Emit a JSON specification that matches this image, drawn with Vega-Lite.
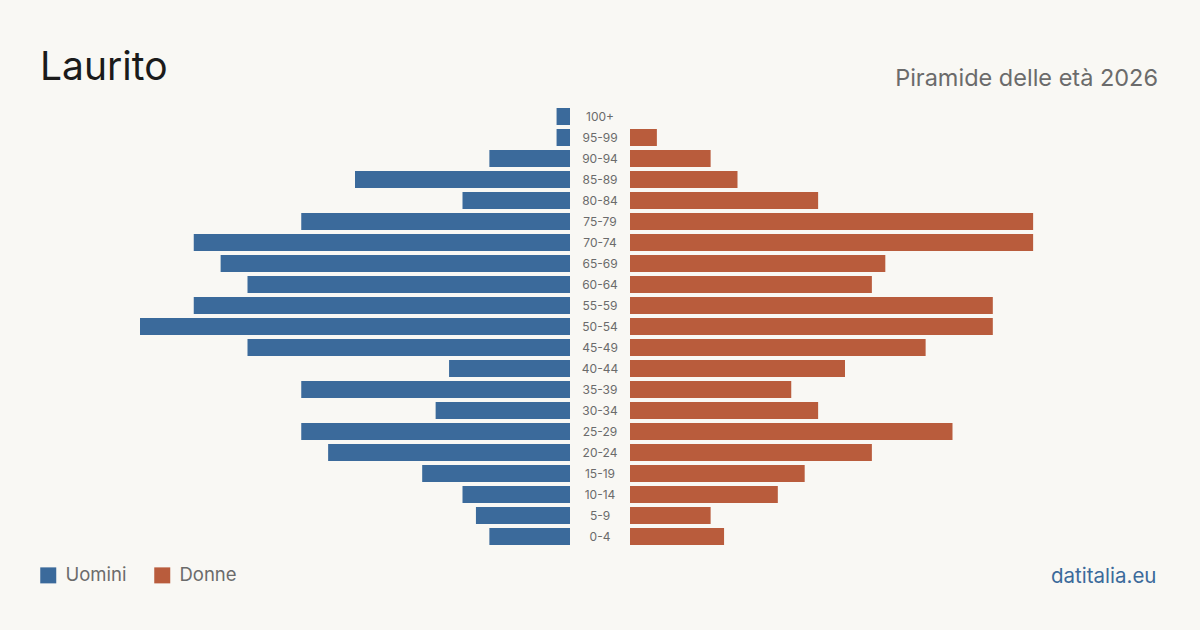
{
  "$schema": "https://vega.github.io/schema/vega-lite/v6.json",
  "background": "#f9f8f4",
  "padding": {"left": 39, "right": 42, "top": 49, "bottom": 81},
  "bounds": "flush",
  "spacing": 0,
  "datasets": {
    "piramide": [
      {"eta": "100+", "sesso": "Uomini", "n": 1}, {"eta": "100+", "sesso": "Donne", "n": 0},
      {"eta": "95-99", "sesso": "Uomini", "n": 1}, {"eta": "95-99", "sesso": "Donne", "n": 2},
      {"eta": "90-94", "sesso": "Uomini", "n": 6}, {"eta": "90-94", "sesso": "Donne", "n": 6},
      {"eta": "85-89", "sesso": "Uomini", "n": 16}, {"eta": "85-89", "sesso": "Donne", "n": 8},
      {"eta": "80-84", "sesso": "Uomini", "n": 8}, {"eta": "80-84", "sesso": "Donne", "n": 14},
      {"eta": "75-79", "sesso": "Uomini", "n": 20}, {"eta": "75-79", "sesso": "Donne", "n": 30},
      {"eta": "70-74", "sesso": "Uomini", "n": 28}, {"eta": "70-74", "sesso": "Donne", "n": 30},
      {"eta": "65-69", "sesso": "Uomini", "n": 26}, {"eta": "65-69", "sesso": "Donne", "n": 19},
      {"eta": "60-64", "sesso": "Uomini", "n": 24}, {"eta": "60-64", "sesso": "Donne", "n": 18},
      {"eta": "55-59", "sesso": "Uomini", "n": 28}, {"eta": "55-59", "sesso": "Donne", "n": 27},
      {"eta": "50-54", "sesso": "Uomini", "n": 32}, {"eta": "50-54", "sesso": "Donne", "n": 27},
      {"eta": "45-49", "sesso": "Uomini", "n": 24}, {"eta": "45-49", "sesso": "Donne", "n": 22},
      {"eta": "40-44", "sesso": "Uomini", "n": 9}, {"eta": "40-44", "sesso": "Donne", "n": 16},
      {"eta": "35-39", "sesso": "Uomini", "n": 20}, {"eta": "35-39", "sesso": "Donne", "n": 12},
      {"eta": "30-34", "sesso": "Uomini", "n": 10}, {"eta": "30-34", "sesso": "Donne", "n": 14},
      {"eta": "25-29", "sesso": "Uomini", "n": 20}, {"eta": "25-29", "sesso": "Donne", "n": 24},
      {"eta": "20-24", "sesso": "Uomini", "n": 18}, {"eta": "20-24", "sesso": "Donne", "n": 18},
      {"eta": "15-19", "sesso": "Uomini", "n": 11}, {"eta": "15-19", "sesso": "Donne", "n": 13},
      {"eta": "10-14", "sesso": "Uomini", "n": 8}, {"eta": "10-14", "sesso": "Donne", "n": 11},
      {"eta": "5-9", "sesso": "Uomini", "n": 7}, {"eta": "5-9", "sesso": "Donne", "n": 6},
      {"eta": "0-4", "sesso": "Uomini", "n": 6}, {"eta": "0-4", "sesso": "Donne", "n": 7}
    ],
    "classi": [
      {"eta": "100+"}, {"eta": "95-99"}, {"eta": "90-94"}, {"eta": "85-89"}, {"eta": "80-84"},
      {"eta": "75-79"}, {"eta": "70-74"}, {"eta": "65-69"}, {"eta": "60-64"}, {"eta": "55-59"},
      {"eta": "50-54"}, {"eta": "45-49"}, {"eta": "40-44"}, {"eta": "35-39"}, {"eta": "30-34"},
      {"eta": "25-29"}, {"eta": "20-24"}, {"eta": "15-19"}, {"eta": "10-14"}, {"eta": "5-9"},
      {"eta": "0-4"}
    ]
  },
  "hconcat": [
    {
      "title": {
        "text": "Laurito",
        "anchor": "start",
        "frame": "group",
        "dx": -100,
        "offset": 0,
        "dy": 13,
        "baseline": "alphabetic",
        "font": "Inter",
        "fontSize": 39,
        "fontWeight": "normal",
        "color": "#1b1b1b"
      },
      "width": 430,
      "height": 441,
      "data": {"name": "piramide"},
      "transform": [{"filter": "datum.sesso === 'Uomini'"}],
      "mark": {"type": "bar"},
      "encoding": {
        "y": {
          "field": "eta", "type": "nominal", "axis": null,
          "scale": {
            "domain": ["100+", "95-99", "90-94", "85-89", "80-84", "75-79", "70-74", "65-69", "60-64", "55-59", "50-54", "45-49", "40-44", "35-39", "30-34", "25-29", "20-24", "15-19", "10-14", "5-9", "0-4"],
            "paddingInner": 0.19, "paddingOuter": 0.095
          }
        },
        "x": {
          "field": "n", "type": "quantitative", "axis": null,
          "scale": {"domain": [0, 32], "reverse": true, "nice": false}
        },
        "color": {
          "field": "sesso", "type": "nominal",
          "scale": {"domain": ["Uomini", "Donne"], "range": ["#3b6a9b", "#b95c3c"]},
          "legend": {
            "title": null,
            "orient": "none",
            "legendX": -101,
            "legendY": 460,
            "direction": "horizontal",
            "symbolType": "square",
            "symbolSize": 256,
            "symbolStrokeWidth": 0,
            "labelFont": "Inter",
            "labelFontSize": 18.5,
            "labelColor": "#6b6b6b",
            "labelOffset": 8,
            "columnPadding": 26
          }
        }
      }
    },
    {
      "width": 60,
      "height": 441,
      "data": {"name": "classi"},
      "mark": {"type": "text", "font": "Inter", "fontSize": 12, "color": "#6b6b6b", "baseline": "middle", "align": "center"},
      "encoding": {
        "y": {
          "field": "eta", "type": "nominal", "axis": null,
          "scale": {
            "domain": ["100+", "95-99", "90-94", "85-89", "80-84", "75-79", "70-74", "65-69", "60-64", "55-59", "50-54", "45-49", "40-44", "35-39", "30-34", "25-29", "20-24", "15-19", "10-14", "5-9", "0-4"],
            "paddingInner": 0.19, "paddingOuter": 0.095
          }
        },
        "text": {"field": "eta"}
      }
    },
    {
      "title": {
        "text": "Piramide delle età 2026",
        "anchor": "end",
        "frame": "group",
        "dx": 98,
        "offset": 0,
        "dy": 3,
        "baseline": "alphabetic",
        "font": "Inter",
        "fontSize": 23.5,
        "fontWeight": "normal",
        "color": "#6b6b6b"
      },
      "width": 430,
      "height": 441,
      "data": {"name": "piramide"},
      "transform": [{"filter": "datum.sesso === 'Donne'"}],
      "mark": {"type": "bar"},
      "encoding": {
        "y": {
          "field": "eta", "type": "nominal", "axis": null,
          "scale": {
            "domain": ["100+", "95-99", "90-94", "85-89", "80-84", "75-79", "70-74", "65-69", "60-64", "55-59", "50-54", "45-49", "40-44", "35-39", "30-34", "25-29", "20-24", "15-19", "10-14", "5-9", "0-4"],
            "paddingInner": 0.19, "paddingOuter": 0.095
          }
        },
        "x": {
          "field": "n", "type": "quantitative",
          "scale": {"domain": [0, 32], "nice": false},
          "axis": {
            "title": "datitalia.eu",
            "labels": false, "ticks": false, "domain": false, "grid": false,
            "titleX": 526, "titleY": 35,
            "titleAlign": "right", "titleAnchor": null, "titleBaseline": "alphabetic",
            "titleFont": "Inter", "titleFontSize": 20.5, "titleFontWeight": "normal",
            "titleColor": "#3b6a9b"
          }
        },
        "color": {"field": "sesso", "type": "nominal"}
      }
    }
  ],
  "resolve": {"scale": {"y": "independent"}},
  "config": {
    "view": {"stroke": null},
    "font": "Inter"
  }
}
